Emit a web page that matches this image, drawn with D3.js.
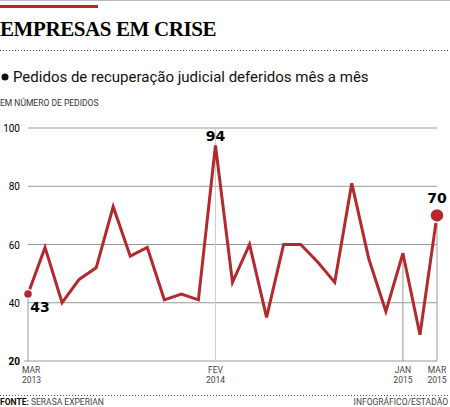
<!DOCTYPE html><html><head><meta charset="utf-8"><script src="https://cdn.jsdelivr.net/npm/d3@7"></script>
<style>body{margin:0;background:#fff}</style></head><body><svg id="c" width="450" height="407"></svg>
<script>
const months=["MAR 2013","ABR","MAI","JUN","JUL","AGO","SET","OUT","NOV","DEZ","JAN","FEV 2014","MAR","ABR","MAI","JUN","JUL","AGO","SET","OUT","NOV","DEZ","JAN 2015","FEV","MAR 2015"];
const values=[43,59,40,48,52,73,56,59,41,43,41,94,47,60,35,60,60,54,47,81,55,37,57,29,70];
const yTicks=[20,40,60,80,100];
const xLabelIdx=[0,11,22,24];
const red="#b5282e";
const svg=d3.select("#c");
svg.append("line").attr("x1",0).attr("x2",450).attr("y1",0.5).attr("y2",0.5).attr("stroke","#bbb");
svg.append("rect").attr("x",0).attr("y",5).attr("width",98).attr("height",3).attr("fill",red);
svg.append("text").attr("x",0).attr("y",36).attr("font-family","Liberation Serif").attr("font-size",21).attr("font-weight","bold").attr("letter-spacing","-0.4").text("EMPRESAS EM CRISE");
svg.append("line").attr("x1",0).attr("x2",450).attr("y1",50.5).attr("y2",50.5).attr("stroke","#555").attr("stroke-dasharray","1,2");
svg.append("circle").attr("cx",5).attr("cy",77).attr("r",3.5).attr("fill","#111");
svg.append("text").attr("x",13).attr("y",82).attr("font-family","Roboto").attr("font-size",15).attr("fill","#111").text("Pedidos de recuperação judicial deferidos mês a mês");
svg.append("text").attr("x",0).attr("y",106).attr("font-family","Roboto").attr("font-size",8.5).attr("fill","#333").text("EM NÚMERO DE PEDIDOS");
const x=d3.scaleLinear().domain([0,24]).range([28,437]);
const y=d3.scaleLinear().domain([20,100]).range([361,128]);
yTicks.forEach(t=>{
 svg.append("line").attr("x1",t===20?24:28).attr("x2",437).attr("y1",y(t)).attr("y2",y(t)).attr("stroke","#999");
 svg.append("text").attr("x",20).attr("y",y(t)+4).attr("text-anchor","end").attr("font-family","Roboto").attr("font-size",10).attr("font-weight",t===20?"bold":"normal").text(t);
});
xLabelIdx.forEach(i=>{
 svg.append("line").attr("x1",x(i)).attr("x2",x(i)).attr("y1",y(20)).attr("y2",i===11?y(100):y(values[i])).attr("stroke",i===11?"#ccc":"#999");
 const p=months[i].split(" ");
 const t=svg.append("text").attr("x",x(i)).attr("text-anchor",i===0?"start":"middle").attr("font-family","Roboto").attr("font-size",8.5).attr("fill","#444");
 t.append("tspan").attr("x",i===0?x(i)-6:x(i)).attr("y",373).text(p[0]);
 t.append("tspan").attr("x",i===0?x(i)-6:x(i)).attr("y",383).text(p[1]);
});
svg.append("path").datum(values.map((v,i)=>[i,v])).attr("fill","none").attr("stroke",red).attr("stroke-width",3).attr("stroke-linejoin","miter")
 .attr("d",d3.line().x(d=>x(d[0])).y(d=>y(d[1])));
svg.append("circle").attr("cx",x(0)).attr("cy",y(values[0])).attr("r",4.5).attr("fill",red).attr("stroke","#fff").attr("stroke-width",1.5);
svg.append("circle").attr("cx",x(24)).attr("cy",y(values[24])).attr("r",7).attr("fill",red).attr("stroke","#fff").attr("stroke-width",1.5);
const lab=(i,dx,dy)=>svg.append("text").attr("x",x(i)+dx).attr("y",y(values[i])+dy).attr("text-anchor","middle").attr("font-family","DejaVu Sans").attr("font-weight","bold").attr("font-size",14).text(values[i]);
lab(0,12,18);lab(11,0,-4);lab(24,0,-12);
svg.append("line").attr("x1",0).attr("x2",450).attr("y1",395.5).attr("y2",395.5).attr("stroke","#555").attr("stroke-dasharray","1,2");
const f=svg.append("text").attr("x",0).attr("y",405).attr("font-family","Roboto").attr("font-size",8.5).attr("fill","#444");
f.append("tspan").attr("font-weight","bold").attr("fill","#111").text("FONTE: ");f.append("tspan").text("SERASA EXPERIAN");
svg.append("text").attr("x",448).attr("y",405).attr("text-anchor","end").attr("font-family","Roboto").attr("font-size",8.5).attr("fill","#444").text("INFOGRÁFICO/ESTADÃO");
</script></body></html>
